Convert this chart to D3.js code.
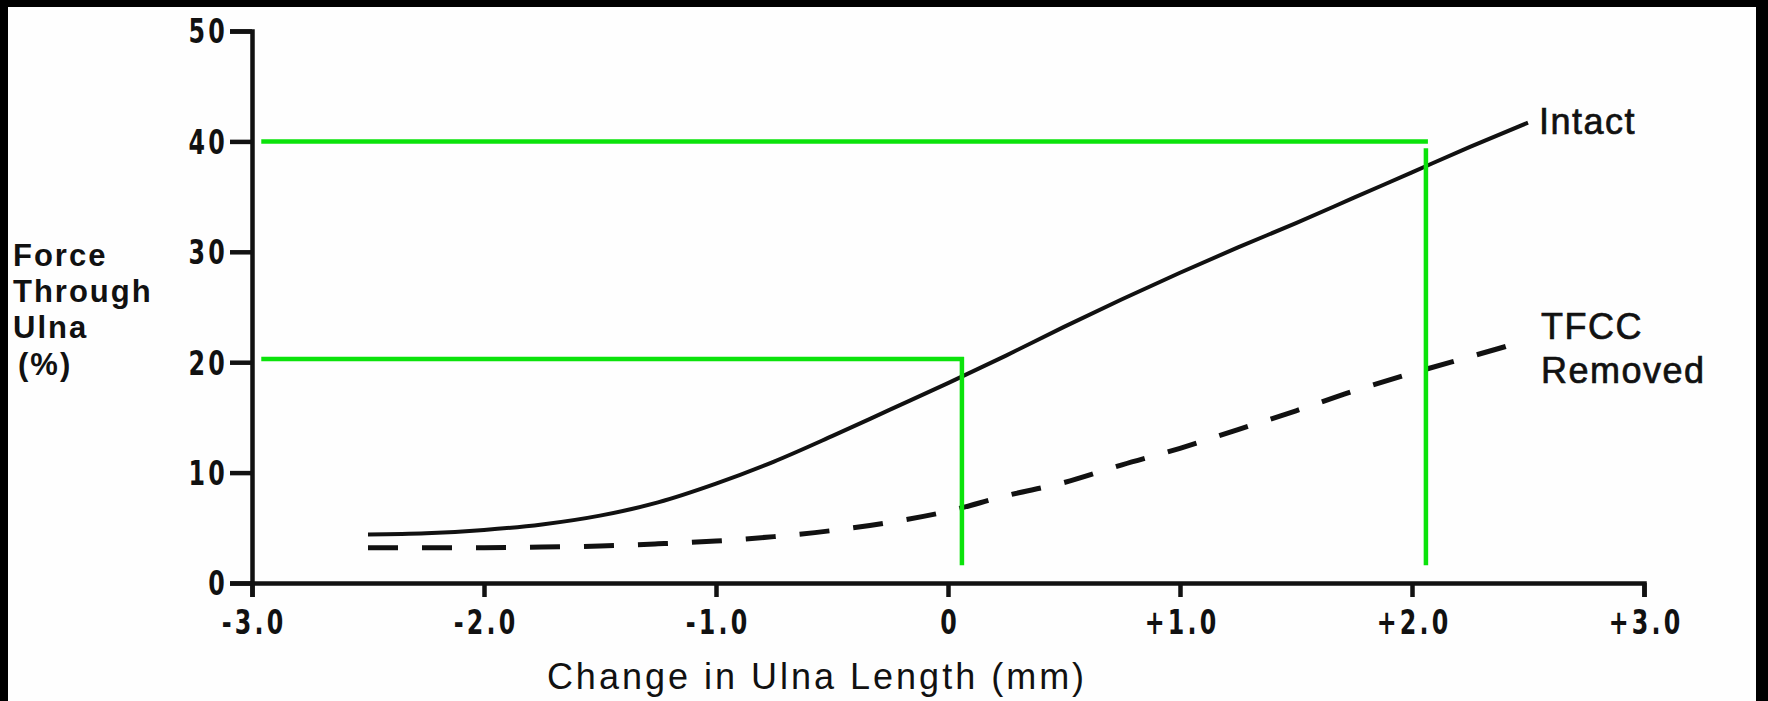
<!DOCTYPE html>
<html>
<head>
<meta charset="utf-8">
<script src="https://cdn.jsdelivr.net/npm/d3@7"></script>
<style>
  html, body { margin: 0; padding: 0; background: #000; overflow: hidden; }
  svg { display: block; }
  .tick text { font-family: "DejaVu Sans Condensed", "DejaVu Sans", sans-serif; font-weight: bold; }
</style>
</head>
<body>
<div class="chart"></div>
<script>
// change in ulna length (mm)
var ulnaChange = [-2.5, -2.25, -2.0, -1.75, -1.5, -1.25, -1.0, -0.75, -0.5, -0.25, 0, 0.25, 0.5, 0.75, 1.0, 1.25, 1.5, 1.75, 2.0, 2.25, 2.5];
// force through ulna (%), intact wrist
var intactForce = [4.4, 4.5, 4.8, 5.3, 6.1, 7.3, 9.0, 11.0, 13.3, 15.7, 18.1, 20.6, 23.2, 25.7, 28.1, 30.4, 32.6, 34.9, 37.2, 39.5, 41.7];
// force through ulna (%), TFCC removed
var removedForce = [3.2, 3.2, 3.2, 3.25, 3.35, 3.55, 3.8, 4.2, 4.75, 5.5, 6.5, 7.9, 9.1, 10.7, 12.2, 13.9, 15.6, 17.4, 19.0, 20.5, 22.0];

var xTicks = [-3, -2, -1, 0, 1, 2, 3];
var xTickLabels = ["-3.0", "-2.0", "-1.0", "0", "+1.0", "+2.0", "+3.0"];
var yTicks = [0, 10, 20, 30, 40, 50];

// green reading lines drawn over the figure
var readX = [0.06, 2.06];
var readY = [20.3, 40];
var readTop = [20.3, 39.2];

var svgWidth = 1768;
var svgHeight = 701;
var squeeze = 0.8; // tick digits are narrow in the original

var svg = d3.select(".chart")
  .append("svg")
  .attr("width", svgWidth)
  .attr("height", svgHeight);

// scanned page: black frame, white paper
svg.append("rect").attr("width", svgWidth).attr("height", svgHeight).attr("fill", "#000");
svg.append("rect")
  .attr("x", 8).attr("y", 7)
  .attr("width", 1748).attr("height", svgHeight - 7)
  .attr("fill", "#fefefe");

var xScale = d3.scaleLinear().domain([-3, 3]).range([252, 1644]);
var yScale = d3.scaleLinear().domain([0, 50]).range([583, 31]);

// axes
var xAxis = d3.axisBottom(xScale)
  .tickValues(xTicks)
  .tickFormat((d, i) => xTickLabels[i])
  .tickSize(14)
  .tickPadding(14);

var yAxis = d3.axisLeft(yScale)
  .tickValues(yTicks)
  .tickSize(22)
  .tickPadding(2);

var xg = svg.append("g")
  .attr("transform", `translate(0, ${yScale(0)})`)
  .call(xAxis);

var yg = svg.append("g")
  .attr("transform", `translate(${xScale(-3)}, 0)`)
  .call(yAxis);

[xg, yg].forEach(function(g) {
  g.selectAll("path, line").attr("stroke", "#111").attr("stroke-width", 4.5);
  g.selectAll("text")
    .attr("fill", "#111")
    .attr("font-size", 33)
    .attr("letter-spacing", 4)
    .attr("transform", `scale(${squeeze},1)`);
});
xg.selectAll("text").attr("x", 2);
yg.selectAll("text").attr("x", -24 / squeeze).attr("dy", "0.36em");

// curves
var line = d3.line()
  .x((d, i) => xScale(ulnaChange[i]))
  .y(d => yScale(d))
  .curve(d3.curveMonotoneX);

svg.append("path")
  .attr("d", line(intactForce))
  .attr("fill", "none")
  .attr("stroke", "#111")
  .attr("stroke-width", 4);

svg.append("path")
  .attr("d", line(removedForce))
  .attr("fill", "none")
  .attr("stroke", "#111")
  .attr("stroke-width", 5)
  .attr("stroke-dasharray", "30 24");

// green reading lines
readX.forEach(function(rx, i) {
  svg.append("line")
    .attr("x1", xScale(-2.96)).attr("x2", xScale(rx) + 2)
    .attr("y1", yScale(readY[i])).attr("y2", yScale(readY[i]))
    .attr("stroke", "#0be30b").attr("stroke-width", 4.5);
  svg.append("line")
    .attr("x1", xScale(rx)).attr("x2", xScale(rx))
    .attr("y1", yScale(readTop[i]) - 2).attr("y2", yScale(1.6))
    .attr("stroke", "#0be30b").attr("stroke-width", 4.5);
});

// curve labels
var last = ulnaChange.length - 1;
var labelFont = "Liberation Sans, Arial, sans-serif";

svg.append("text")
  .attr("x", xScale(ulnaChange[last]) + 11)
  .attr("y", yScale(intactForce[last]) + 11)
  .attr("font-family", labelFont)
  .attr("font-size", 36)
  .attr("letter-spacing", 1.5)
  .attr("fill", "#111")
  .attr("stroke", "#111")
  .attr("stroke-width", 0.7)
  .text("Intact");

var removedLabel = svg.append("text")
  .attr("font-family", labelFont)
  .attr("font-size", 36)
  .attr("letter-spacing", 1.5)
  .attr("fill", "#111")
  .attr("stroke", "#111")
  .attr("stroke-width", 0.7);
removedLabel.append("tspan")
  .attr("x", xScale(ulnaChange[last]) + 13)
  .attr("y", yScale(removedForce[last]) - 1)
  .text("TFCC");
removedLabel.append("tspan")
  .attr("x", xScale(ulnaChange[last]) + 13)
  .attr("dy", 44)
  .text("Removed");

// y axis title, one word per line
var yTitle = svg.append("g")
  .attr("font-family", labelFont)
  .attr("font-weight", "bold")
  .attr("fill", "#111");
[["Force", 13, 266], ["Through", 13, 302], ["Ulna", 13, 338], ["(%)", 18, 375]].forEach(function(t) {
  yTitle.append("text")
    .attr("x", t[1]).attr("y", t[2])
    .attr("font-size", 31)
    .attr("letter-spacing", 2)
    .text(t[0]);
});

// x axis title
svg.append("text")
  .attr("x", 817)
  .attr("y", 689)
  .attr("text-anchor", "middle")
  .attr("font-family", labelFont)
  .attr("font-size", 36)
  .attr("letter-spacing", 3)
  .attr("fill", "#111")
  .text("Change in Ulna Length (mm)");
</script>
</body>
</html>
